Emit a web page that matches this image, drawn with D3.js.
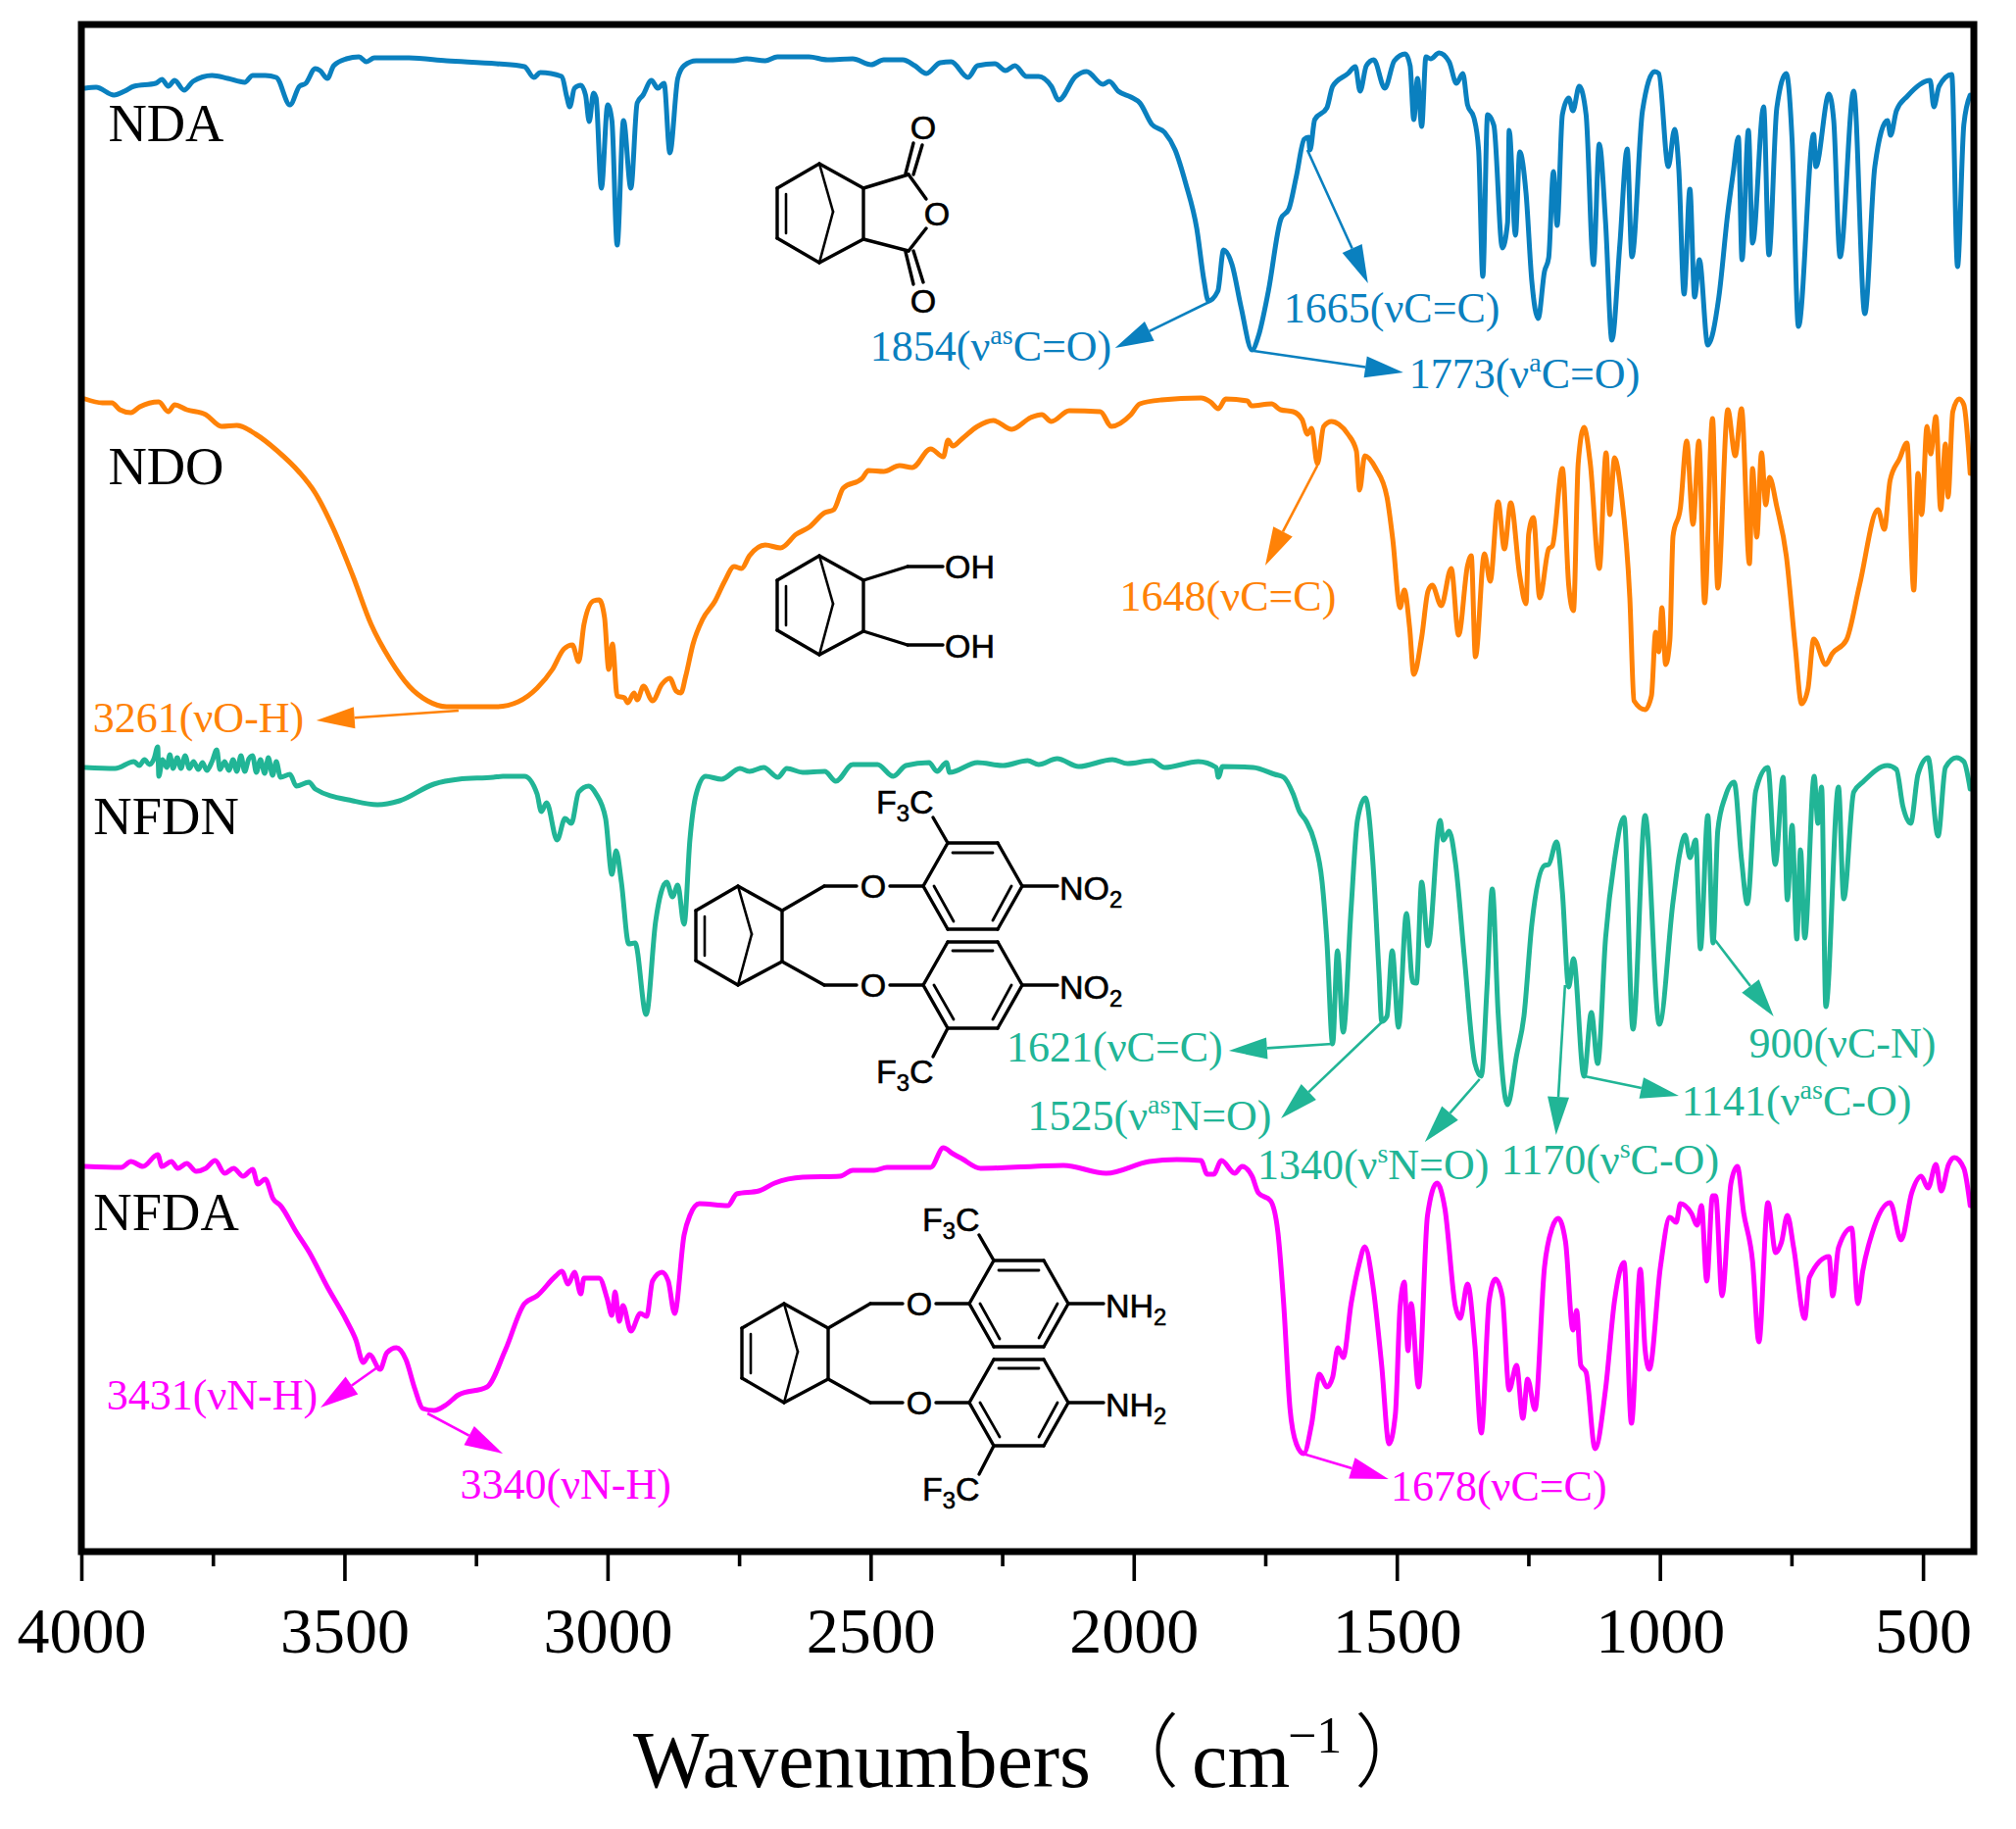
<!DOCTYPE html>
<html>
<head>
<meta charset="utf-8">
<script src="https://cdn.jsdelivr.net/npm/d3@7/dist/d3.min.js"></script>
<style>
html,body{margin:0;padding:0;background:#fff;}
svg{display:block;}
</style>
</head>
<body>
<svg id="chart" width="2057" height="1866"></svg>
<script>
const seriesNames = ["NDA","NDO","NFDN","NFDA"];
const seriesColors = ["#0A80BF","#FF8207","#21B596","#FF00FF"];
const majorTicks = [4000,3500,3000,2500,2000,1500,1000,500];
const minorTicks = [3750,3250,2750,2250,1750,1250,750];

const ndaPoints = [[3993,1493],[3972,1494],[3938,1486],[3918,1490],[3900,1495],[3859,1498],[3847,1502],[3835,1495],[3823,1501],[3805,1491],[3788,1500],[3752,1506],[3722,1503],[3690,1499],[3675,1506],[3651,1506],[3630,1504],[3604,1476],[3586,1495],[3574,1498],[3556,1513],[3547,1511],[3533,1503],[3521,1516],[3497,1523],[3473,1525],[3459,1520],[3444,1524],[3378,1524],[3307,1521],[3212,1518],[3159,1515],[3141,1504],[3129,1509],[3088,1505],[3079,1485],[3073,1474],[3064,1493],[3052,1496],[3043,1486],[3036,1459],[3028,1488],[3023,1483],[3013,1391],[3001,1476],[2993,1460],[2983,1333],[2971,1460],[2957,1391],[2945,1478],[2934,1486],[2918,1501],[2906,1493],[2894,1498],[2883,1427],[2868,1503],[2856,1516],[2833,1521],[2762,1521],[2738,1523],[2702,1521],[2679,1525],[2619,1525],[2584,1522],[2536,1523],[2501,1517],[2477,1522],[2441,1522],[2418,1516],[2396,1508],[2370,1519],[2349,1520],[2317,1504],[2299,1516],[2266,1518],[2246,1511],[2228,1516],[2206,1505],[2183,1505],[2159,1495],[2145,1481],[2113,1505],[2092,1510],[2061,1497],[2049,1500],[2032,1490],[2008,1484],[1991,1478],[1968,1456],[1944,1448],[1924,1430],[1904,1396],[1883,1350],[1869,1296],[1861,1276],[1843,1286],[1832,1328],[1816,1313],[1799,1270],[1778,1226],[1766,1240],[1747,1286],[1723,1360],[1708,1370],[1694,1403],[1679,1441],[1671,1443],[1668,1430],[1659,1461],[1636,1473],[1625,1495],[1596,1508],[1582,1515],[1573,1490],[1561,1516],[1547,1522],[1526,1493],[1508,1521],[1487,1528],[1478,1516],[1471,1461],[1464,1503],[1456,1454],[1448,1525],[1439,1523],[1423,1529],[1404,1520],[1390,1498],[1378,1508],[1369,1476],[1357,1463],[1348,1430],[1340,1301],[1331,1466],[1319,1455],[1303,1330],[1293,1356],[1290,1450],[1278,1343],[1270,1428],[1258,1386],[1247,1296],[1235,1258],[1223,1306],[1215,1320],[1206,1408],[1199,1353],[1189,1466],[1177,1483],[1169,1470],[1157,1495],[1144,1466],[1130,1313],[1119,1436],[1107,1356],[1095,1236],[1080,1333],[1066,1431],[1057,1321],[1037,1470],[1014,1510],[1006,1508],[988,1413],[976,1451],[968,1410],[958,1283],[947,1390],[938,1280],[929,1318],[913,1231],[892,1280],[875,1366],[865,1406],[855,1443],[848,1318],[836,1450],[828,1335],[807,1474],[797,1323],[782,1473],[764,1508],[753,1440],[741,1250],[712,1446],[708,1413],[683,1487],[674,1460],[662,1321],[636,1490],[615,1263],[596,1413],[572,1460],[566,1445],[555,1470],[534,1485],[491,1501],[484,1474],[474,1495],[450,1507],[439,1311],[427,1456],[415,1486]];

const ndoPoints = [[3993,1176],[3960,1172],[3942,1172],[3927,1165],[3906,1162],[3889,1168],[3853,1173],[3835,1163],[3823,1170],[3800,1165],[3764,1160],[3734,1148],[3705,1149],[3669,1140],[3628,1123],[3586,1101],[3556,1080],[3521,1043],[3485,996],[3450,946],[3414,910],[3378,883],[3343,868],[3307,862],[3212,862],[3171,867],[3135,881],[3106,900],[3084,921],[3068,925],[3056,908],[3046,946],[3028,970],[3017,971],[3007,953],[2999,900],[2992,926],[2983,873],[2969,871],[2963,866],[2951,876],[2945,869],[2933,883],[2916,868],[2898,885],[2883,891],[2871,878],[2862,876],[2853,893],[2839,926],[2821,951],[2797,970],[2779,990],[2761,1005],[2747,1003],[2732,1016],[2702,1027],[2673,1024],[2643,1038],[2619,1045],[2589,1060],[2572,1063],[2554,1085],[2518,1095],[2506,1103],[2477,1102],[2447,1108],[2423,1106],[2388,1125],[2364,1117],[2355,1134],[2346,1128],[2329,1135],[2299,1148],[2269,1154],[2234,1145],[2198,1157],[2177,1160],[2159,1153],[2125,1164],[2066,1163],[2045,1148],[2008,1160],[1991,1171],[1950,1175],[1875,1177],[1857,1173],[1842,1166],[1828,1176],[1787,1174],[1779,1169],[1741,1171],[1724,1165],[1700,1163],[1683,1155],[1673,1140],[1665,1146],[1654,1110],[1642,1148],[1627,1153],[1613,1150],[1596,1140],[1580,1123],[1574,1083],[1564,1118],[1543,1105],[1522,1076],[1511,1033],[1497,963],[1489,981],[1479,943],[1471,895],[1456,933],[1444,980],[1436,986],[1419,965],[1400,1003],[1386,935],[1369,1006],[1362,1016],[1354,913],[1337,1018],[1326,990],[1311,1071],[1299,1023],[1287,1070],[1270,996],[1258,967],[1253,1038],[1244,1055],[1232,973],[1215,1023],[1208,1026],[1189,1105],[1177,986],[1168,960],[1159,1110],[1148,1147],[1136,1110],[1119,1003],[1106,1121],[1099,1058],[1090,1116],[1078,1083],[1061,973],[1053,868],[1032,859],[1020,873],[1012,938],[1006,918],[1000,963],[993,905],[985,930],[979,1036],[965,1065],[953,1133],[941,1048],[930,1133],[919,968],[904,1156],[894,983],[875,1165],[861,1118],[849,1166],[834,1008],[828,1105],[820,1035],[811,1121],[803,1068],[796,1096],[782,1066],[764,1016],[747,923],[735,865],[723,880],[712,931],[689,905],[677,916],[650,930],[625,986],[590,1063],[578,1043],[567,1093],[549,1115],[535,1131],[522,981],[514,1100],[507,1058],[497,1148],[490,1120],[480,1158],[471,1063],[462,1130],[457,1076],[448,1163],[436,1176],[427,1170],[415,1100]];

const nfdnPoints = [[3993,800],[3936,799],[3900,806],[3890,802],[3880,808],[3871,803],[3862,809],[3855,821],[3853,791],[3846,808],[3838,800],[3832,813],[3826,799],[3818,810],[3811,799],[3803,812],[3795,799],[3787,806],[3778,798],[3770,805],[3762,797],[3752,806],[3743,818],[3737,798],[3728,806],[3720,797],[3712,808],[3705,796],[3697,812],[3690,796],[3682,809],[3675,812],[3668,795],[3660,808],[3652,794],[3645,810],[3637,792],[3630,806],[3622,790],[3604,793],[3592,781],[3568,785],[3556,778],[3485,766],[3438,762],[3396,766],[3331,783],[3284,788],[3218,790],[3200,791],[3159,791],[3135,773],[3127,755],[3117,764],[3097,726],[3082,748],[3070,743],[3056,775],[3037,781],[3023,773],[3005,748],[2993,691],[2985,715],[2975,683],[2961,620],[2949,621],[2928,548],[2910,643],[2889,683],[2878,668],[2868,680],[2856,640],[2845,726],[2833,773],[2815,791],[2785,788],[2750,799],[2732,796],[2705,800],[2678,790],[2661,799],[2631,795],[2589,796],[2568,786],[2536,803],[2489,803],[2459,791],[2435,802],[2391,805],[2376,796],[2358,805],[2352,795],[2299,805],[2251,802],[2204,807],[2183,803],[2148,809],[2107,801],[2043,808],[2014,804],[1968,807],[1944,800],[1880,806],[1846,800],[1842,790],[1834,801],[1776,800],[1735,793],[1718,790],[1700,773],[1688,755],[1675,745],[1660,725],[1645,683],[1636,623],[1625,518],[1616,613],[1605,530],[1590,656],[1578,746],[1563,769],[1549,706],[1537,590],[1532,541],[1522,546],[1512,613],[1500,535],[1485,651],[1473,581],[1466,580],[1456,683],[1444,618],[1421,746],[1415,726],[1404,735],[1392,703],[1375,606],[1355,498],[1343,485],[1332,576],[1322,676],[1311,550],[1293,456],[1276,506],[1262,546],[1247,640],[1223,700],[1215,701],[1200,724],[1189,673],[1177,576],[1168,605],[1148,485],[1134,550],[1122,498],[1107,626],[1090,706],[1072,749],[1055,533],[1032,751],[1005,538],[979,663],[967,710],[956,731],[947,708],[936,726],[927,615],[913,751],[903,621],[894,736],[880,770],[863,785],[849,706],[838,661],[822,776],[799,800],[785,701],[770,790],[762,665],[753,741],[744,625],[737,716],[729,626],[711,791],[704,743],[697,780],[689,556],[665,780],[655,666],[636,775],[619,785],[572,802],[555,798],[543,761],[528,743],[514,793],[495,810],[476,730],[462,800],[441,810],[427,806],[415,778]];

const nfdaPoints = [[3993,393],[3924,392],[3906,398],[3883,393],[3855,405],[3847,393],[3829,398],[3817,391],[3800,396],[3782,388],[3764,391],[3746,399],[3728,386],[3711,391],[3693,383],[3675,390],[3665,375],[3651,380],[3636,360],[3622,353],[3592,326],[3568,306],[3533,270],[3497,236],[3479,216],[3465,193],[3453,201],[3433,186],[3420,203],[3402,208],[3384,196],[3367,166],[3352,146],[3331,144],[3307,150],[3284,160],[3230,168],[3195,206],[3159,253],[3135,261],[3100,281],[3088,286],[3076,273],[3064,285],[3052,263],[3046,279],[3017,279],[3002,258],[2993,241],[2987,265],[2979,235],[2972,251],[2957,225],[2939,243],[2927,240],[2916,276],[2898,285],[2886,276],[2874,243],[2856,323],[2845,343],[2827,355],[2773,353],[2756,365],[2714,368],[2684,376],[2631,382],[2560,383],[2536,389],[2495,389],[2471,392],[2388,392],[2364,412],[2346,406],[2329,401],[2293,391],[2192,393],[2136,394],[2055,386],[1973,398],[1921,400],[1875,399],[1863,385],[1851,385],[1836,399],[1811,386],[1797,393],[1778,383],[1766,366],[1743,358],[1729,326],[1718,253],[1706,146],[1694,110],[1680,100],[1665,130],[1650,181],[1636,168],[1625,178],[1615,208],[1605,198],[1590,253],[1575,293],[1564,311],[1549,273],[1532,190],[1518,110],[1506,140],[1497,250],[1489,275],[1482,205],[1476,253],[1462,168],[1445,343],[1427,376],[1412,350],[1392,250],[1383,238],[1369,273],[1355,210],[1343,121],[1328,256],[1316,278],[1303,260],[1290,165],[1276,190],[1264,136],[1255,176],[1241,145],[1223,290],[1208,331],[1197,340],[1183,316],[1169,226],[1162,246],[1154,190],[1144,183],[1127,105],[1107,166],[1090,256],[1072,295],[1058,131],[1041,288],[1032,206],[1024,186],[1003,290],[985,341],[973,336],[965,355],[944,345],[933,333],[925,353],[915,276],[904,363],[898,363],[886,261],[869,376],[857,393],[845,346],[828,296],[816,214],[799,356],[784,305],[773,316],[762,343],[750,310],[729,238],[720,280],[683,301],[676,261],[665,310],[640,330],[628,253],[619,286],[601,325],[567,356],[546,318],[526,366],[508,383],[495,371],[480,395],[470,368],[456,395],[445,402],[427,391],[415,353]];

const seriesLabelAt = [[3949,1439],[3949,1089],[3977,732],[3977,328]];

const annoSeries = [0,0,0,1,1,2,2,2,2,2,2,3,3,3];
const annoPrefix = ["1854(ν","1665(ν","1773(ν","3261(ν","1648(ν","1621(ν","1525(ν","1340(ν","1170(ν","1141(ν","900(ν","3431(ν","3340(ν","1678(ν"];
const annoSup = ["as","","a","","","","as","s","s","as","","","",""];
const annoSuffix = ["C=O)","C=C)","C=O)","O-H)","C=C)","C=C)","N=O)","N=O)","C-O)","C-O)","C-N)","N-H)","N-H)","C=C)"];
const annoLabelAt = [[2503,1215],[1718,1254],[1480,1187],[3978,836],[2029,960],[2244,500],[2204,430],[1768,380],[1305,385],[963,445],[835,504],[3952,145],[3281,54],[1515,52]];
const annoFrom = [[1859,1275],[1673,1430],[1775,1225],[3284,858],[1654,1108],[1626,518],[1532,540],[1346,482],[1184,578],[1147,485],[905,628],[3438,188],[3343,141],[1682,100]];
const annoTo = [[2038,1228],[1558,1294],[1491,1203],[3554,848],[1753,1006],[1822,511],[1723,442],[1450,418],[1201,425],[968,465],[788,546],[3546,147],[3200,100],[1519,74]];

const allSeries = [ndaPoints, ndoPoints, nfdnPoints, nfdaPoints];

const svg = d3.select("#chart");
svg.append("rect").attr("width",2057).attr("height",1866).attr("fill","#fff");
const serif = "'Liberation Serif','Times New Roman',serif";
const sans = "'Liberation Sans',Arial,sans-serif";

const x = d3.scaleLinear().domain([4000,400]).range([83,2015.8]);
const y = d3.scaleLinear().domain([0,1558]).range([1583,25]);
/* my wavenumber readings were taken against a slightly stretched ruler: this corrects them */
const calibrated = wn => wn - (4000 - wn) * 0.0013;
const xc = wn => x(calibrated(wn));
const line = d3.line().x(d=>xc(d[0])).y(d=>y(d[1])).curve(d3.curveMonotoneX);

/* spectra */
svg.append("clipPath").attr("id","plot").append("rect").attr("x",83).attr("y",25).attr("width",1931).attr("height",1558);
svg.append("g").attr("clip-path","url(#plot)").selectAll("path").data(allSeries).join("path")
  .attr("d",line).attr("fill","none").attr("stroke",(d,i)=>seriesColors[i])
  .attr("stroke-width",5).attr("stroke-linejoin","round").attr("stroke-linecap","round");

/* series names */
svg.append("g").selectAll("text").data(seriesNames).join("text")
  .attr("x",(d,i)=>xc(seriesLabelAt[i][0])).attr("y",(d,i)=>y(seriesLabelAt[i][1]))
  .attr("font-family",serif).attr("font-size",54.5).attr("fill","#000").text(d=>d);

/* annotations */
const anno = svg.append("g");
annoPrefix.forEach((p,i)=>{
  const c = seriesColors[annoSeries[i]];
  const t = anno.append("text").attr("x",xc(annoLabelAt[i][0])).attr("y",y(annoLabelAt[i][1]))
    .attr("font-family",serif).attr("font-size",44).attr("fill",c);
  t.append("tspan").text(p);
  if(annoSup[i]){
    t.append("tspan").attr("font-size",28).attr("dy",-17).text(annoSup[i]);
    t.append("tspan").attr("dy",17).text(annoSuffix[i]);
  } else t.append("tspan").text(annoSuffix[i]);
  const x0=xc(annoFrom[i][0]), y0=y(annoFrom[i][1]), x1=xc(annoTo[i][0]), y1=y(annoTo[i][1]);
  const L=Math.hypot(x1-x0,y1-y0), ux=(x1-x0)/L, uy=(y1-y0)/L, hl=39, hw=11;
  const bx=x1-ux*hl, by=y1-uy*hl;
  anno.append("line").attr("x1",x0).attr("y1",y0).attr("x2",bx).attr("y2",by).attr("stroke",c).attr("stroke-width",2.6);
  anno.append("polygon").attr("fill",c)
    .attr("points",[[x1,y1],[bx-uy*hw,by+ux*hw],[bx+uy*hw,by-ux*hw]].map(q=>q.join(",")).join(" "));
});

/* chemical structures */
const bond = (g,a,b,w=3.4)=>g.append("line").attr("x1",a[0]).attr("y1",a[1]).attr("x2",b[0]).attr("y2",b[1])
  .attr("stroke","#000").attr("stroke-width",w).attr("stroke-linecap","round");
const label = (g,px,py,parts,size=34)=>{
  const t=g.append("text").attr("x",px).attr("y",py).attr("font-family",sans).attr("font-size",size)
    .attr("fill","#000").attr("stroke","#000").attr("stroke-width",0.6);
  let pending=0;
  parts.forEach(s=>{
    const ts=t.append("tspan");
    if(s[0]==="_"){ ts.attr("font-size",size*0.7).attr("dy",8).text(s.slice(1)); pending=-8; }
    else { if(pending) ts.attr("dy",pending); pending=0; ts.text(s); }
  });
  return t;
};
function norbornene(ax,ay){
  const g=svg.append("g").attr("transform",`translate(${ax},${ay})`);
  const A=[0,0],B=[-43,25],C=[-43,76],D=[0,101],E=[45,25],F=[45,77],G=[14,49];
  [[A,B],[B,C],[C,D],[D,F],[F,E],[E,A]].forEach(s=>bond(g,s[0],s[1]));
  bond(g,A,G,2.6); bond(g,G,D,2.6);
  bond(g,[-34,31],[-34,71],2.6);
  return g;
}
/* NDA */
{
  const g=norbornene(836,167);
  [[[45,25],[91,11]],[[45,77],[91,89]],[[91,11],[109,36]],[[91,89],[109,66]],
   [[88,10],[96,-21]],[[96,11],[105,-19]],[[88,90],[96,123]],[[96,89],[106,121]]].forEach(s=>bond(g,s[0],s[1]));
  [[120,63],[106,-25],[106,152]].forEach(p=>{
    label(g,p[0],p[1],["O"]).attr("text-anchor","middle");
  });
}
/* NDO */
{
  const g=norbornene(836,567);
  [[[45,25],[90,11],[126,11]],[[45,77],[90,91],[126,91]]].forEach(p=>{bond(g,p[0],p[1]);bond(g,p[1],p[2]);});
  label(g,128,23,["OH"]); label(g,128,104,["OH"]);
}
/* NFDN / NFDA share the diether fragment */
function diether(ax,ay,dx,dy,tail){
  norbornene(ax,ay);
  const g=svg.append("g").attr("transform",`translate(${dx},${dy})`);
  const ring=(cy)=>{
    const v=[[942,cy],[967,cy-44],[1018,cy-44],[1043,cy],[1018,cy+44],[967,cy+44]];
    v.forEach((p,i)=>bond(g,p,v[(i+1)%6]));
    bond(g,[908,cy],[942,cy]);
    bond(g,[1043,cy],[1079,cy]);
    label(g,891,cy+12,["O"]).attr("text-anchor","middle");
    label(g,1081,cy+14,[tail,"_2"]);
  };
  ring(904); ring(1005);
  bond(g,[972,870],[1013,870],2.8); bond(g,[953,904],[973,940],2.8); bond(g,[1032,904],[1013,939],2.8);
  bond(g,[972,970],[1013,970],2.8); bond(g,[953,1005],[973,1040],2.8); bond(g,[1032,1005],[1013,1040],2.8);
  bond(g,[798,929],[841,904]); bond(g,[841,904],[874,904]);
  bond(g,[798,981],[841,1005]); bond(g,[841,1005],[874,1005]);
  bond(g,[967,860],[952,834]); bond(g,[967,1049],[952,1078]);
  label(g,894,830,["F","_3","C"]); label(g,894,1105,["F","_3","C"]);
}
diether(753,904,0,0,"NO");
diether(800,1330,47,426,"NH");

/* frame and axis */
svg.append("rect").attr("x",83).attr("y",25).attr("width",1931).attr("height",1558)
  .attr("fill","none").attr("stroke","#000").attr("stroke-width",7);
const axMajor = d3.axisBottom(x).tickValues(majorTicks).tickSize(30).tickPadding(0).tickFormat(d3.format("d"));
const axMinor = d3.axisBottom(x).tickValues(minorTicks).tickSize(15).tickFormat("");
const gMinor = svg.append("g").attr("transform","translate(0,1583)").call(axMinor);
const gMajor = svg.append("g").attr("transform","translate(0,1583)").call(axMajor);
[gMinor,gMajor].forEach(g=>{g.select(".domain").remove(); g.selectAll("line").attr("stroke","#000").attr("stroke-width",3.6);});
gMajor.selectAll("text").attr("font-family",serif).attr("font-size",66).attr("fill","#000")
  .attr("y",103).attr("dy",0).attr("text-anchor","middle");

/* axis title */
const title = svg.append("g").attr("font-family",serif).attr("font-size",82).attr("fill","#000");
title.append("text").attr("x",646).attr("y",1823).text("Wavenumbers");
title.append("text").attr("x",1121).attr("y",1816).attr("font-family","'Noto Sans CJK SC'").attr("font-weight",300).text("（");
title.append("text").attr("x",1216).attr("y",1823).text("cm");
title.append("text").attr("x",1314).attr("y",1788).attr("font-size",52).text("−1");
title.append("text").attr("x",1382).attr("y",1816).attr("font-family","'Noto Sans CJK SC'").attr("font-weight",300).text("）");
</script>
</body>
</html>
